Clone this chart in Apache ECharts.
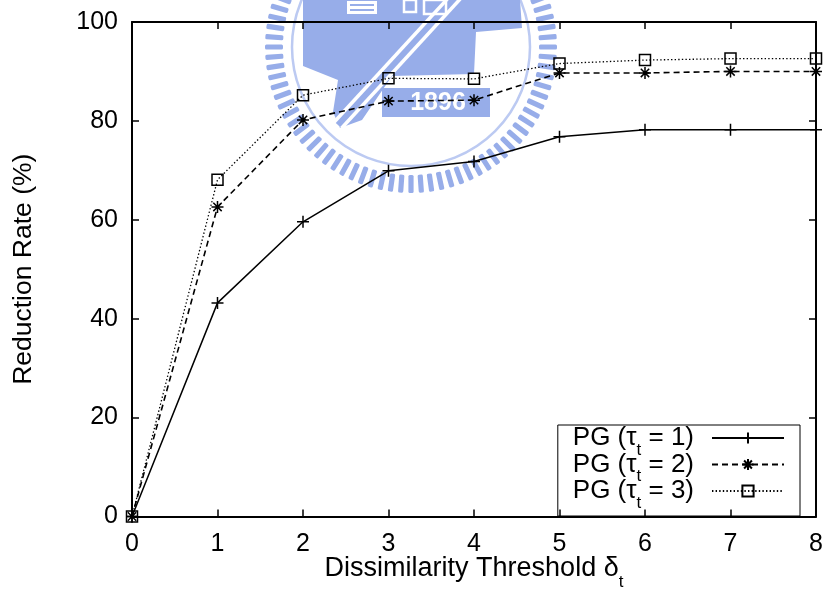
<!DOCTYPE html>
<html>
<head>
<meta charset="utf-8">
<script src="https://cdn.jsdelivr.net/npm/echarts@6/dist/echarts.min.js"></script>
<style>
  html, body { margin: 0; padding: 0; background: #fff; }
  #chart { width: 830px; height: 601px; }
</style>
</head>
<body>
<div id="chart"></div>
<script>
// Dissimilarity threshold values (x axis)
const thresholds = [0, 1, 2, 3, 4, 5, 6, 7, 8];
// Reduction rate (%) for each tau_t setting
const rateTau1 = [0, 43.2, 59.6, 69.9, 71.8, 76.8, 78.2, 78.2, 78.2];
const rateTau2 = [0, 62.6, 80.2, 84.0, 84.2, 89.7, 89.7, 90.0, 90.0];
const rateTau3 = [0, 68.1, 85.2, 88.6, 88.5, 91.6, 92.3, 92.6, 92.6];
const seriesNames = ['PG (τt = 1)', 'PG (τt = 2)', 'PG (τt = 3)'];
// Tick labels
const xTickValues = [0, 1, 2, 3, 4, 5, 6, 7, 8];
const yTickValues = [0, 20, 40, 60, 80, 100];

const FONT = 'Liberation Sans, Arial, Helvetica, sans-serif';
// subscript: small token anchored to the bottom of the line box
const subRich = { s: { fontSize: 17, fontFamily: FONT, color: '#000', verticalAlign: 'bottom', lineHeight: 2, height: 2 } };

// gnuplot-like point glyphs
const PLUS = 'path://M0,6L12,6M6,0L6,12';
const STAR = 'path://M0,6L12,6M6,0L6,12M1.8,1.8L10.2,10.2M10.2,1.8L1.8,10.2';
const SQUARE = 'path://M0,0L10,0L10,10L0,10Z';

function lineSeries(name, values, symbol, size, dash, width) {
  return {
    type: 'line',
    name: name,
    data: thresholds.map((x, i) => [x, values[i]]),
    symbol: symbol,
    symbolSize: size,
    showSymbol: true,
    clip: false,
    lineStyle: { color: '#000', width: width, type: dash },
    itemStyle: { color: 'transparent', borderColor: '#000', borderWidth: 1.5 },
    emphasis: { disabled: true },
    z: 3
  };
}

// Light-blue university emblem drawn behind the plot
const emblemBlue = '#97ade9';
function emblemElements() {
  const cx = 411, cy = 47, els = [];
  const teeth = 88;
  for (let k = 0; k < teeth; k++) {
    const a = k * 2 * Math.PI / teeth;
    els.push({
      type: 'rect', x: cx, y: cy, rotation: a, silent: true, z: -5,
      shape: { x: -2.6, y: -146, width: 5.2, height: 18, r: 1.5 },
      style: { fill: emblemBlue }
    });
  }
  els.push({ type: 'circle', silent: true, z: -5, shape: { cx: cx, cy: cy, r: 119 },
    style: { fill: 'none', stroke: '#bccaf2', lineWidth: 2.5 } });
  els.push({ type: 'polygon', silent: true, z: -5,
    shape: { points: [[303, 0], [520, 0], [522, 28], [476, 32], [474, 74], [392, 76], [362, 120], [340, 128], [333, 112], [338, 80], [303, 66]] },
    style: { fill: emblemBlue } });
  els.push({ type: 'rect', silent: true, z: -5, shape: { x: 478, y: 34, width: 34, height: 32, r: 10 }, style: { fill: '#fff' } });
  els.push({ type: 'line', silent: true, z: -5, shape: { x1: 338, y1: 125, x2: 462, y2: -10 },
    style: { stroke: '#fff', lineWidth: 13 } });
  els.push({ type: 'line', silent: true, z: -5, shape: { x1: 338, y1: 125, x2: 462, y2: -10 },
    style: { stroke: emblemBlue, lineWidth: 6 } });
  els.push({ type: 'rect', silent: true, z: -5, shape: { x: 347, y: 1, width: 30, height: 13 }, style: { fill: '#fff' } });
  els.push({ type: 'line', silent: true, z: -5, shape: { x1: 350, y1: 5, x2: 374, y2: 5 }, style: { stroke: emblemBlue, lineWidth: 2 } });
  els.push({ type: 'line', silent: true, z: -5, shape: { x1: 350, y1: 10, x2: 374, y2: 10 }, style: { stroke: emblemBlue, lineWidth: 2 } });
  els.push({ type: 'rect', silent: true, z: -5, shape: { x: 404, y: 0, width: 12, height: 12 }, style: { fill: 'none', stroke: '#fff', lineWidth: 2.5 } });
  els.push({ type: 'rect', silent: true, z: -5, shape: { x: 424, y: 0, width: 22, height: 14 }, style: { fill: 'none', stroke: '#fff', lineWidth: 2.5 } });
  els.push({ type: 'rect', silent: true, z: -5, shape: { x: 382, y: 88, width: 108, height: 29 }, style: { fill: emblemBlue } });
  els.push({ type: 'text', silent: true, z: -5, x: 438, y: 103,
    style: { text: '1896', fill: '#fff', font: 'bold 25px ' + FONT, align: 'center', verticalAlign: 'middle' } });
  return els;
}

function xAxisBase(position) {
  return {
    type: 'value', position: position,
    min: xTickValues[0], max: xTickValues[xTickValues.length - 1], interval: xTickValues[1] - xTickValues[0],
    axisLine: { show: true, onZero: false, lineStyle: { color: '#000', width: 2 } },
    axisTick: { show: true, inside: true, length: 7, lineStyle: { color: '#000', width: 1.5 } },
    splitLine: { show: false },
    axisLabel: { show: position === 'bottom', fontSize: 25, fontFamily: FONT, color: '#000', margin: 15 }
  };
}
function yAxisBase(position) {
  return {
    type: 'value', position: position,
    min: yTickValues[0], max: yTickValues[yTickValues.length - 1], interval: yTickValues[1] - yTickValues[0],
    axisLine: { show: true, onZero: false, lineStyle: { color: '#000', width: 2 } },
    axisTick: { show: true, inside: true, length: 7, lineStyle: { color: '#000', width: 1.5 } },
    splitLine: { show: false },
    axisLabel: { show: position === 'left', fontSize: 25, fontFamily: FONT, color: '#000', margin: 14 }
  };
}

const chart = echarts.init(document.getElementById('chart'), null, { renderer: 'canvas' });
chart.setOption({
  animation: false,
  backgroundColor: '#fff',
  graphic: { elements: emblemElements() },
  grid: { left: 132, right: 14, top: 22, bottom: 84.5, containLabel: false, outerBoundsMode: 'none' },
  xAxis: [
    Object.assign(xAxisBase('bottom'), {
      name: 'Dissimilarity Threshold δ{s|t}', nameLocation: 'middle', nameGap: 37, nameMoveOverlap: false,
      nameTextStyle: { fontSize: 27, fontFamily: FONT, color: '#000', lineHeight: 30, rich: subRich }
    }),
    xAxisBase('top')
  ],
  yAxis: [
    Object.assign(yAxisBase('left'), {
      name: 'Reduction Rate (%)', nameLocation: 'middle', nameGap: 95, nameMoveOverlap: false,
      nameTextStyle: { fontSize: 26.5, fontFamily: FONT, color: '#000' }
    }),
    yAxisBase('right')
  ],
  legend: {
    orient: 'vertical', right: 30, top: 425, align: 'right',
    itemWidth: 72, itemHeight: 14, itemGap: -7,
    padding: [0, 15, 4.5, 15],
    borderColor: '#000', borderWidth: 1, backgroundColor: 'transparent',
    selectedMode: false,
    data: seriesNames,
    formatter: name => name.replace('τt', 'τ{s|t}'),
    textStyle: { fontSize: 26, fontFamily: FONT, color: '#000', lineHeight: 26, padding: [0, 13, 0, 0], rich: subRich }
  },
  series: [
    lineSeries(seriesNames[0], rateTau1, PLUS, 12, 'solid', 1.5),
    lineSeries(seriesNames[1], rateTau2, STAR, 12, [6, 4], 1.6),
    lineSeries(seriesNames[2], rateTau3, SQUARE, 11, [1.4, 2.2], 1.3)
  ]
});
</script>
</body>
</html>
